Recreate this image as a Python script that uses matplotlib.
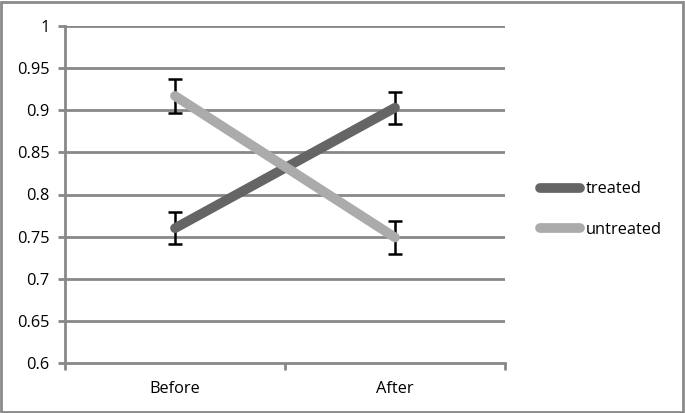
import matplotlib
matplotlib.use("Agg")
import matplotlib.pyplot as plt
from matplotlib.patches import Rectangle

categories = ["Before", "After"]
treated = [0.760, 0.903]
treated_err = [0.019, 0.019]
untreated = [0.917, 0.749]
untreated_err = [0.020, 0.020]
yticks = [0.6, 0.65, 0.7, 0.75, 0.8, 0.85, 0.9, 0.95, 1.0]
ytick_labels = ["0.6", "0.65", "0.7", "0.75", "0.8", "0.85", "0.9", "0.95", "1"]

plt.rcParams['font.family'] = ['Open Sans', 'DejaVu Sans']
FS = 11.8

fig = plt.figure(figsize=(6.85, 4.13), dpi=100)
ax = fig.add_axes([65/685, 50/413, 440/685, 337/413])

grid_c = "#888888"
xs = [i + 0.5 for i in range(len(categories))]

ax.errorbar(xs, treated, yerr=treated_err, fmt="none", ecolor="black",
            elinewidth=1.8, capsize=5, capthick=1.8, zorder=3)
ax.errorbar(xs, untreated, yerr=untreated_err, fmt="none", ecolor="black",
            elinewidth=1.8, capsize=5, capthick=1.8, zorder=3)
ax.plot(xs, treated, color="#656565", lw=7, solid_capstyle="round", label="treated", zorder=4)
ax.plot(xs, untreated, color="#ababab", lw=7, solid_capstyle="round", label="untreated", zorder=4)

ax.set_xlim(0, 2)
ax.set_ylim(0.6, 1.0)
ax.set_yticks(yticks)
ax.set_yticklabels(ytick_labels)
for y in yticks[1:]:
    ax.axhline(y, color=grid_c, lw=2, zorder=1)

ax.set_xticks([0, 1, 2])
ax.set_xticklabels(["", "", ""])
ax.set_xticks(xs, minor=True)
ax.set_xticklabels(categories, minor=True)
ax.tick_params(axis="x", which="minor", length=0, pad=13, labelsize=FS)
ax.tick_params(axis="x", which="major", length=5, width=2, color=grid_c, direction="out")
ax.tick_params(axis="y", length=5, width=2, color=grid_c, direction="out", labelsize=FS, pad=6)

for s in ["top", "right"]:
    ax.spines[s].set_visible(False)
for s in ["left", "bottom"]:
    ax.spines[s].set_color(grid_c)
    ax.spines[s].set_linewidth(2)

leg = ax.legend(loc="center left", bbox_to_anchor=(1.08, 0.455), frameon=False,
                fontsize=FS, handlelength=2.4, handletextpad=0.35, labelspacing=1.5,
                borderaxespad=0, borderpad=0)

fig.patches.append(Rectangle((0.002, 0.003), 0.995, 0.993, transform=fig.transFigure,
                             fill=False, edgecolor="#8a8a8a", lw=2))

fig.savefig("out.png", dpi=100)
